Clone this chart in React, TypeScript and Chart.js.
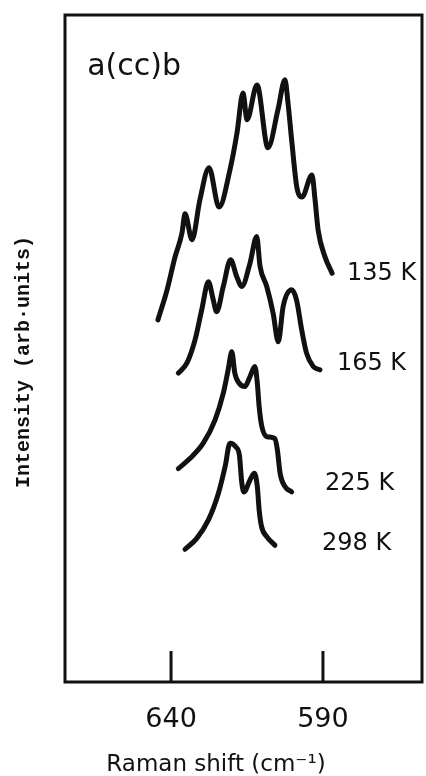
import React, { useEffect, useRef } from "react";
import { Chart, registerables } from "chart.js";

Chart.register(...registerables);

// Raman shift (cm^-1) and intensity (arb. units)
const shift135 = [644.3, 641.3, 638.7, 636.4, 635.4, 633.1, 630.5, 627.5, 624.2, 620.6, 618.3, 616.3, 615.0, 611.7, 608.1, 604.8, 602.5, 601.5, 600.2, 598.6, 596.9, 593.6, 592.6, 591.6, 589.3, 587.0];
const intensity135 = [54.3, 58.8, 63.7, 67.3, 70.2, 66.3, 72.3, 77.1, 71.2, 76.8, 82.3, 88.3, 84.3, 89.5, 80.1, 85.8, 90.3, 86.8, 80.8, 74.2, 72.7, 76.0, 72.3, 67.8, 63.7, 61.3];

const shift165 = [637.6, 634.8, 632.1, 629.9, 627.7, 626.1, 625.0, 622.8, 620.4, 618.4, 616.7, 614.0, 611.8, 610.7, 608.5, 606.4, 604.7, 603.1, 600.3, 598.7, 597.0, 595.4, 593.2, 591.0];
const intensity165 = [46.3, 47.8, 51.3, 55.8, 60.0, 57.3, 55.5, 59.3, 63.3, 60.8, 59.3, 62.8, 66.8, 62.3, 59.3, 55.3, 51.0, 56.3, 58.8, 57.3, 52.8, 49.3, 47.3, 46.8];

const shift225 = [637.6, 633.8, 629.4, 625.5, 622.8, 621.2, 620.0, 619.0, 617.9, 615.7, 614.0, 612.4, 611.6, 611.0, 610.2, 608.5, 605.8, 605.0, 604.1, 602.5, 600.3];
const intensity225 = [32.0, 33.5, 35.8, 39.3, 43.3, 46.8, 49.5, 46.3, 45.0, 44.3, 45.8, 47.3, 44.8, 41.3, 38.5, 36.8, 36.5, 34.8, 31.3, 29.3, 28.5];

const shift298 = [635.4, 631.6, 627.7, 624.4, 622.2, 620.6, 618.6, 617.5, 616.7, 616.0, 614.0, 612.6, 611.6, 611.0, 610.2, 608.5, 605.8];
const intensity298 = [19.9, 21.5, 24.3, 28.3, 32.3, 35.8, 35.2, 34.0, 29.8, 28.5, 30.3, 31.3, 29.3, 25.8, 23.3, 21.8, 20.5];

const temperatureLabels = ["135 K", "165 K", "225 K", "298 K"];
const tickValues = [640, 590];
const panelLabel = "a(cc)b";
const xTitle = "Raman shift (cm\u207B\u00B9)";
const yTitle = "Intensity (arb\u00B7units)";

const INK = "#111111";
const FONT = "'DejaVu Sans', sans-serif";

const seriesShift = [shift135, shift165, shift225, shift298];
const seriesIntensity = [intensity135, intensity165, intensity225, intensity298];

const decorations = {
  id: "decorations",
  afterDraw(chart: any) {
    const { ctx, chartArea: ca, scales } = chart;
    const x = scales.x;
    const y = scales.y;
    ctx.save();
    ctx.strokeStyle = INK;
    ctx.fillStyle = INK;
    ctx.lineWidth = 3;
    ctx.strokeRect(ca.left, ca.top, ca.right - ca.left, ca.bottom - ca.top);
    // inward tick marks
    x.ticks.forEach((t: any) => {
      const px = x.getPixelForValue(t.value);
      ctx.beginPath();
      ctx.moveTo(px, ca.bottom);
      ctx.lineTo(px, ca.bottom - 31);
      ctx.stroke();
    });
    // temperature labels (anchored in data coordinates)
    const anchors = [
      [582.1, 60.3],
      [585.4, 46.8],
      [589.3, 28.8],
      [590.3, 19.8],
    ];
    ctx.font = `24px ${FONT}`;
    ctx.textAlign = "left";
    ctx.textBaseline = "alphabetic";
    temperatureLabels.forEach((lbl, i) => {
      ctx.fillText(lbl, x.getPixelForValue(anchors[i][0]), y.getPixelForValue(anchors[i][1]));
    });
    // panel label
    ctx.font = `30px ${FONT}`;
    ctx.fillText(panelLabel, x.getPixelForValue(667.6), y.getPixelForValue(91.0));
    // x title
    ctx.font = `23px ${FONT}`;
    ctx.textAlign = "center";
    ctx.fillText(xTitle, 216, 771);
    // y title
    ctx.translate(24, 362);
    ctx.rotate(-Math.PI / 2);
    ctx.font = `bold 20px 'Liberation Mono', monospace`;
    ctx.textBaseline = "middle";
    ctx.fillText(yTitle, 0, 0);
    ctx.restore();
  },
};

export default function App() {
  const ref = useRef<HTMLCanvasElement>(null);
  useEffect(() => {
    const canvas = ref.current;
    if (!canvas) return;
    const chart = new Chart(canvas, {
      type: "line",
      data: {
        datasets: seriesShift.map((xs, i) => ({
          label: temperatureLabels[i],
          data: xs.map((v, j) => ({ x: v, y: seriesIntensity[i][j] })),
          borderColor: INK,
          borderWidth: 5,
          pointRadius: 0,
          fill: false,
          cubicInterpolationMode: "monotone" as const,
          borderCapStyle: "round" as const,
          borderJoinStyle: "round" as const,
        })),
      },
      options: {
        responsive: false,
        animation: false,
        layout: { padding: { left: 65, right: 4, top: 15, bottom: 0 } },
        plugins: { legend: { display: false }, tooltip: { enabled: false } },
        scales: {
          x: {
            type: "linear",
            reverse: true,
            min: 557.4,
            max: 674.9,
            afterBuildTicks: (s: any) => {
              s.ticks = tickValues.map((v) => ({ value: v }));
            },
            afterFit: (s: any) => {
              s.height = 94;
            },
            grid: { display: false, drawTicks: false },
            border: { display: false },
            ticks: {
              color: INK,
              font: { family: FONT, size: 27 },
              padding: 22,
              autoSkip: false,
              maxRotation: 0,
              callback: (v: any) => String(v),
            },
          },
          y: { display: false, min: 0, max: 100 },
        },
      },
      plugins: [decorations],
    });
    return () => chart.destroy();
  }, []);
  return (
    <div style={{ position: "absolute", left: 0, top: 0, width: 426, height: 776, background: "#fff" }}>
      <canvas ref={ref} width={426} height={776} style={{ display: "block" }} />
    </div>
  );
}
